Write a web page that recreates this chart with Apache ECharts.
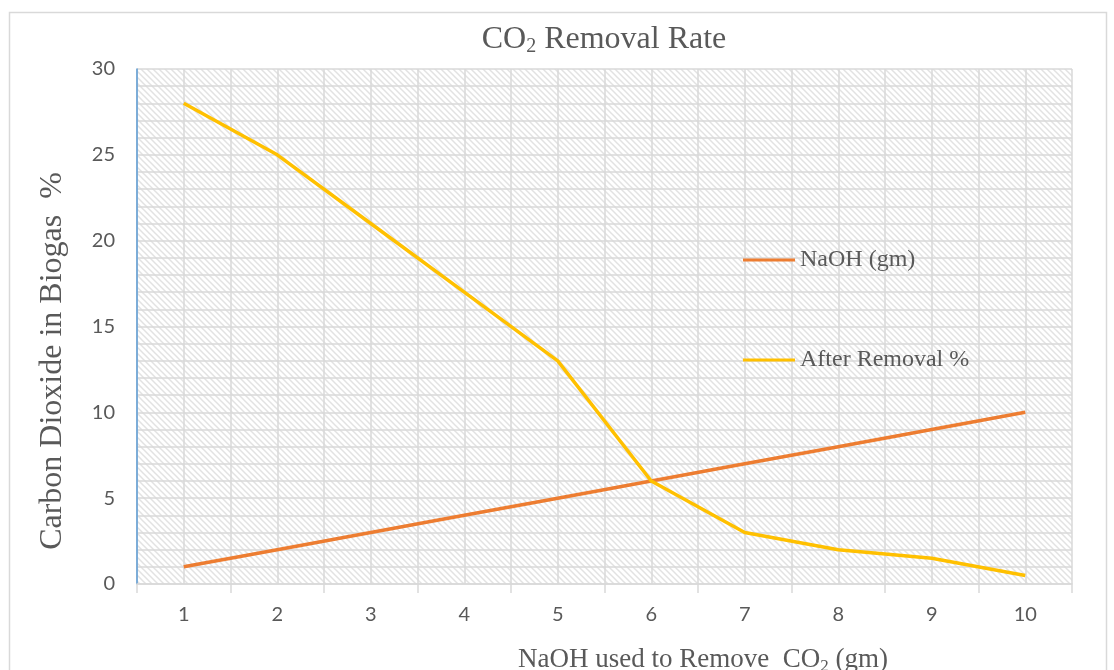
<!DOCTYPE html>
<html>
<head>
<meta charset="utf-8">
<script src="https://cdn.jsdelivr.net/npm/echarts@6/dist/echarts.min.js"></script>
<style>
  html, body { margin: 0; padding: 0; background: #fff; }
  #chart { width: 1114px; height: 670px; }
</style>
</head>
<body>
<div id="chart"></div>
<script>
// data
const categories = ['1', '2', '3', '4', '5', '6', '7', '8', '9', '10'];
const naohGm = [1, 2, 3, 4, 5, 6, 7, 8, 9, 10];
const afterRemoval = [28, 25, 21, 17, 13, 6, 3, 2, 1.5, 0.5];

// diagonal hatch fill like the excel plot area
function hatch() {
  const c = document.createElement('canvas');
  c.width = 6; c.height = 6;
  const ctx = c.getContext('2d');
  ctx.fillStyle = '#fff';
  ctx.fillRect(0, 0, 6, 6);
  ctx.strokeStyle = '#e2e2e2';
  ctx.lineWidth = 1.5;
  ctx.beginPath();
  ctx.moveTo(-1, -1); ctx.lineTo(7, 7);
  ctx.moveTo(-1, 5); ctx.lineTo(1, 7);
  ctx.moveTo(5, -1); ctx.lineTo(7, 1);
  ctx.stroke();
  return c;
}

const serif = '"Liberation Serif", "Times New Roman", serif';
const sans = 'Lato, "Noto Sans", sans-serif';
const grey = '#595959';

const chart = echarts.init(document.getElementById('chart'));
chart.setOption({
  backgroundColor: '#fff',
  animation: false,
  title: [
    {
      text: 'CO{s|2} Removal Rate',
      left: 599, top: 17, textAlign: 'center',
      textStyle: {
        fontFamily: serif, fontSize: 32, fontWeight: 'normal', color: grey,
        rich: { s: { fontSize: 20, fontFamily: serif, color: grey, padding: [15, 0, 0, 0] } }
      }
    },
    {
      text: 'NaOH used to Remove  CO{s|2} (gm)',
      left: 698, top: 640, textAlign: 'center',
      textStyle: {
        fontFamily: serif, fontSize: 27, fontWeight: 'normal', color: grey,
        rich: { s: { fontSize: 17, fontFamily: serif, color: grey, padding: [13, 0, 0, 0] } }
      }
    }
  ],
  graphic: [
    {
      type: 'rect', silent: true, z: -1,
      shape: { x: 9.5, y: 12.5, width: 1097, height: 680 },
      style: { fill: 'none', stroke: '#d9d9d9', lineWidth: 1.5 }
    },
    {
      // y axis title, sits lower than the plot middle in the reference
      type: 'text', silent: true,
      x: 53, y: 361, rotation: Math.PI / 2,
      style: {
        text: 'Carbon Dioxide in Biogas  %', fontFamily: serif, fontSize: 32,
        fill: grey, align: 'center', verticalAlign: 'middle'
      }
    }
  ],
  legend: {
    orient: 'vertical',
    left: 738, top: 243,
    icon: 'rect', itemWidth: 52, itemHeight: 3, itemGap: 76,
    textStyle: { fontFamily: serif, fontSize: 24, color: grey },
    data: ['NaOH (gm)', 'After Removal %']
  },
  grid: {
    left: 137, right: 42, top: 69, bottom: 86,
    show: true, borderWidth: 0,
    backgroundColor: { image: hatch(), repeat: 'repeat' }
  },
  xAxis: [
    {
      type: 'category', data: categories, boundaryGap: true,
      axisLine: { lineStyle: { color: '#d9d9d9', width: 1.5 } },
      axisTick: { show: true, length: 9, lineStyle: { color: '#d9d9d9', width: 1.5 } },
      axisLabel: { margin: 21, fontFamily: sans, fontSize: 20, color: grey },
      splitLine: { show: false }
    },
    {
      type: 'value', min: 0.5, max: 10.5, interval: 0.5, position: 'bottom',
      axisLine: { show: false }, axisTick: { show: false }, axisLabel: { show: false },
      splitLine: { show: true, lineStyle: { color: '#d9d9d9', width: 1.5 } }
    }
  ],
  yAxis: {
    type: 'value', min: 0, max: 30, interval: 5,
    axisLine: { show: true, lineStyle: { color: '#5b9bd5', width: 1.5 } },
    axisTick: { show: false },
    axisLabel: { margin: 22, fontFamily: sans, fontSize: 20, color: grey },
    splitLine: { show: true, lineStyle: { color: '#d9d9d9', width: 1.5 } },
    minorTick: { show: false, splitNumber: 5 },
    minorSplitLine: { show: true, lineStyle: { color: '#d9d9d9', width: 1.5 } }
  },
  series: [
    {
      name: 'NaOH (gm)', type: 'line', data: naohGm, xAxisIndex: 0,
      symbol: 'none', lineStyle: { color: '#ed7d31', width: 3.5 }, itemStyle: { color: '#ed7d31' }
    },
    {
      name: 'After Removal %', type: 'line', data: afterRemoval, xAxisIndex: 0,
      symbol: 'none', lineStyle: { color: '#ffc000', width: 3.5 }, itemStyle: { color: '#ffc000' }
    }
  ]
});
</script>
</body>
</html>
